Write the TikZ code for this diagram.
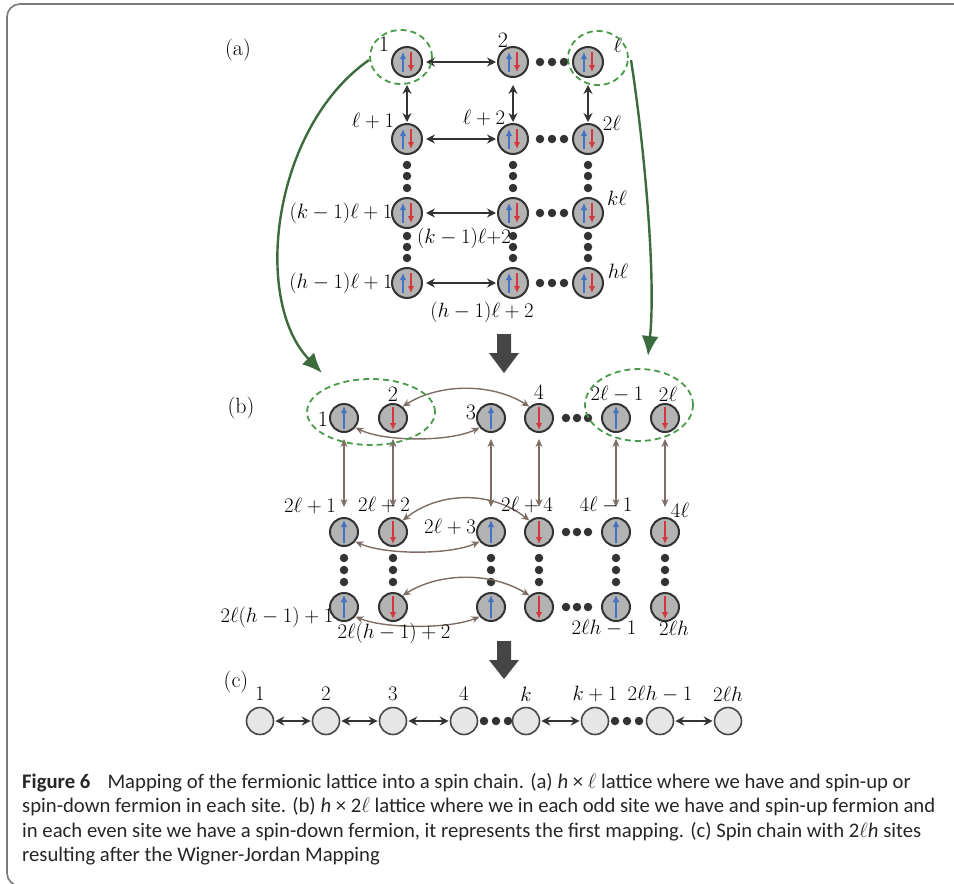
\documentclass[tikz,border=0pt]{standalone}
\usepackage{fontspec}
\newfontfamily\capfont{Carlito}
\usetikzlibrary{arrows.meta,calc}
\definecolor{nodegray}{HTML}{B3B3B3}
\definecolor{edgegray}{HTML}{333333}
\definecolor{spinblue}{HTML}{4472C4}
\definecolor{spinred}{HTML}{D6373E}
\definecolor{brownarr}{HTML}{7D6D65}
\definecolor{darkgreen}{HTML}{3C6B3E}
\definecolor{dashgreen}{HTML}{4A9A4C}
\definecolor{blockgray}{HTML}{454545}
\definecolor{framegray}{HTML}{7A7A7A}
\definecolor{chainfill}{HTML}{E6E6E6}
\newcommand\myud[1]{%
  \draw[upar] ($(#1)+(-4,10)$) -- ($(#1)+(-4,-10)$);
  \draw[dnar] ($(#1)+(4,-10)$) -- ($(#1)+(4,10)$);}
\newcommand\myup[1]{\draw[upar] ($(#1)+(0,11)$) -- ($(#1)+(0,-12)$);}
\newcommand\mydn[1]{\draw[dnar] ($(#1)+(0,-11)$) -- ($(#1)+(0,12)$);}
\begin{document}
\begin{tikzpicture}[x=1pt,y=-1pt,
  anode/.style={circle,draw=edgegray,line width=2pt,fill=nodegray,minimum size=30pt,inner sep=0pt},
  bnode/.style={circle,draw=edgegray,line width=2pt,fill=nodegray,minimum size=28pt,inner sep=0pt},
  cnode/.style={circle,draw=edgegray!90,line width=1.6pt,fill=chainfill,minimum size=27pt,inner sep=0pt},
  dotn/.style={circle,fill=edgegray,inner sep=0pt,minimum size=8.5pt},
  upar/.style={spinblue,line width=2pt,-{Latex[length=7pt,width=6.5pt]}},
  dnar/.style={spinred,line width=2pt,-{Latex[length=7pt,width=6.5pt]}},
  darr/.style={edgegray,line width=1.9pt,{Stealth[length=9pt,width=9pt]}-{Stealth[length=9pt,width=9pt]}},
  barr/.style={brownarr,line width=1.4pt,{Stealth[length=8pt,width=7pt]}-{Stealth[length=8pt,width=7pt]}},
  garr/.style={darkgreen,line width=2.4pt,-{Latex[length=20pt,width=17pt]}},
  gdash/.style={dashgreen,line width=1.8pt,dash pattern=on 6pt off 4pt},
  lab/.style={inner sep=0pt,font=\fontsize{22}{26}\selectfont},
  captext/.style={anchor=base west,inner sep=0pt,font=\capfont\fontsize{20.7}{24}\selectfont,text=black!85}]
\useasboundingbox (0,0) rectangle (954,884);
% frame
\draw[framegray,line width=1.6pt,rounded corners=13pt] (970,4) -- (7,4) -- (7,886) -- (40,886);

% ---------------- (a) ----------------
\node[lab] (la) at (238,50) {(a)};
\foreach \r/\y in {1/62,2/139,3/213,4/283}{
  \foreach \c/\x in {1/407,2/513,3/588}{
    \node[anode] (a\r\c) at (\x,\y) {};
    \myud{a\r\c}
  }
  \draw[darr,shorten <=3pt,shorten >=1pt] (a\r1) -- (a\r2);
  \foreach \i/\x in {1/540,2/552,3/564}{ \node[dotn] (ah\r\i) at (\x,\y) {}; }
}
\foreach \c in {1,2,3}{
  \draw[darr,shorten <=7pt,shorten >=1pt] (a1\c) -- (a2\c);
  \foreach \i/\y in {1/165,2/176,3/188,4/236,5/247,6/258}{
    \node[dotn] (av\c\i) at ($(a1\c)+(0,\y-62)$) {};
  }
}
\node[lab] (ta1) at (384,44) {1};
\node[lab] (ta2) at (503,40) {2};
\node[lab] (ta3) at (618,45) {$\ell$};
\node[lab] (ta4) at (373,121) {$\ell+1$};
\node[lab] (ta5) at (484,118) {$\ell+2$};
\node[lab] (ta6) at (612,123) {$2\ell$};
\node[lab] (ta7) at (341,213) {$(k-1)\ell+1$};
\node[lab] (ta8) at (617,198) {$k\ell$};
\node[lab] (ta9) at (464,238) {$(k-1)\ell{+}2$};
\node[lab] (ta10) at (341,283) {$(h-1)\ell+1$};
\node[lab] (ta11) at (618,271) {$h\ell$};
\node[lab] (ta12) at (482,312) {$(h-1)\ell+2$};
% dashed circles
\draw[gdash] (401,57) ellipse [x radius=31pt,y radius=27pt];
\draw[gdash] (598,58) ellipse [x radius=30pt,y radius=27pt];
\coordinate (gs1) at (369,60);
\coordinate (ge1) at (322,373);
\coordinate (gs2) at (631,60);
\coordinate (ge2) at (648,356);
\draw[garr] (gs1) .. controls (272,128) and (252,300) .. (ge1);
\draw[garr] (gs2) .. controls (645,150) and (656,280) .. (ge2);
% block arrow 1
\fill[blockgray] (497,334) -- (511,334) -- (511,353) -- (519,353) -- (504,373) -- (489,353) -- (497,353) -- cycle;

% ---------------- (b) ----------------
\node[lab] (lb) at (241,408) {(b)};
\foreach \r/\y in {1/418,2/532,3/607}{
  \foreach \c/\x in {1/344,2/393,3/491,4/539,5/616,6/665}{
    \node[bnode] (b\r\c) at (\x,\y) {};
  }
  \foreach \c in {1,3,5}{ \myup{b\r\c} }
  \foreach \c in {2,4,6}{ \mydn{b\r\c} }
  \foreach \i/\x in {1/566,2/577,3/588}{ \node[dotn] (bh\r\i) at (\x,\y) {}; }
}
\foreach \c in {1,...,6}{
  \draw[barr,shorten <=6pt,shorten >=10pt] (b1\c) -- (b2\c);
  \foreach \i/\y in {1/558,2/570,3/582}{
    \node[dotn] (bv\c\i) at ($(b1\c)+(0,\y-418)$) {};
  }
}
% curved links
\draw[barr] (b12.50) .. controls (440,383) and (492,383) .. (b14.130);
\draw[barr] (b11.-40) .. controls (385,442) and (450,442) .. (b13.-140);
\draw[barr] (b22.50) .. controls (440,491) and (492,491) .. (b24.130);
\draw[barr] (b21.-40) .. controls (385,555) and (450,555) .. (b23.-140);
\draw[barr] (b32.50) .. controls (440,572) and (492,572) .. (b34.130);
\draw[barr] (b31.-40) .. controls (385,629) and (450,629) .. (b33.-140);
% labels
\node[lab] (tb1) at (323,419) {1};
\node[lab] (tb2) at (393,394) {2};
\node[lab] (tb3) at (471,412) {3};
\node[lab] (tb4) at (539,392) {4};
\node[lab] (tb5) at (617,394) {$2\ell-1$};
\node[lab] (tb6) at (668,394) {$2\ell$};
\node[lab] (tb7) at (310,506) {$2\ell+1$};
\node[lab] (tb8) at (384,505) {$2\ell+2$};
\node[lab] (tb9) at (527,505) {$2\ell+4$};
\node[lab] (tb10) at (606,505) {$4\ell-1$};
\node[lab] (tb11) at (680,510) {$4\ell$};
\node[lab] (tb12) at (450,527) {$2\ell+3$};
\node[lab] (tb13) at (277,617) {$2\ell(h-1)+1$};
\node[lab] (tb14) at (394,633) {$2\ell(h-1)+2$};
\node[lab] (tb15) at (604,628) {$2\ell h-1$};
\node[lab] (tb16) at (674,628) {$2\ell h$};
\draw[gdash] (371,412) ellipse [x radius=64pt,y radius=33pt];
\draw[gdash] (639,405) ellipse [x radius=54pt,y radius=36pt];
% block arrow 2
\fill[blockgray] (497,641) -- (511,641) -- (511,660) -- (519,660) -- (504,679) -- (489,660) -- (497,660) -- cycle;

% ---------------- (c) ----------------
\node[lab] (lc) at (236,682) {(c)};
\foreach \i/\x/\t in {1/260/1,2/326/2,3/393/3,4/464/4,5/526/k,6/595/k+1,7/660/2\ell h-1,8/728/2\ell h}{
  \node[cnode] (c\i) at (\x,721) {};
  \node[lab] (tc\i) at (\x,694) {$\t$};
}
\foreach \a/\b in {1/2,2/3,3/4,5/6,7/8}{ \draw[darr,shorten <=1pt,shorten >=1pt] (c\a) -- (c\b); }
\foreach \i/\x in {1/484,2/496,3/508,4/615,5/627,6/639}{ \node[dotn] (cd\i) at (\x,721) {}; }

% ---------------- caption ----------------
\node[captext] (cap1) at (22,788) {\textbf{Figure 6}\hspace{0.6em} Mapping of the fermionic lattice into a spin chain. (a) \textit{h} × $\ell$ lattice where we have and spin-up or};
\node[captext] (cap2) at (22,812.5) {spin-down fermion in each site. (b) \textit{h} × 2$\ell$ lattice where we in each odd site we have and spin-up fermion and};
\node[captext] (cap3) at (22,837) {in each even site we have a spin-down fermion, it represents the first mapping. (c) Spin chain with 2$\ell$\textit{h} sites};
\node[captext] (cap4) at (22,861.5) {resulting after the Wigner-Jordan Mapping};
\end{tikzpicture}
\end{document}
